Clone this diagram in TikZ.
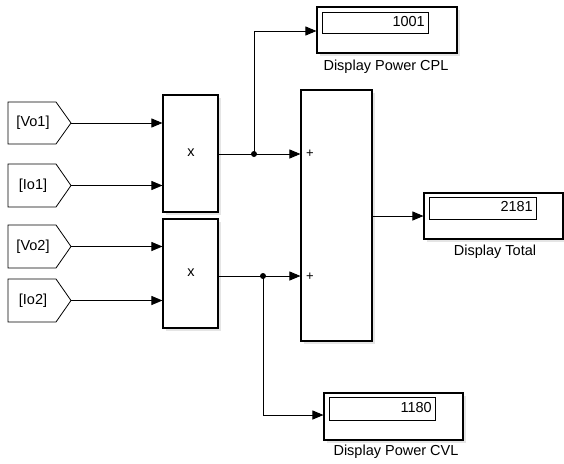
\documentclass[tikz,border=0pt]{standalone}
\usepackage{fontspec}
\setmainfont{Liberation Sans}
\usetikzlibrary{arrows.meta,shadows}
\begin{document}
\begin{tikzpicture}[x=1pt,y=-1pt,
  font=\fontsize{14.5}{17}\selectfont,
  blk/.style={draw,line width=1.1pt,fill=white,inner sep=0pt,
    drop shadow={shadow xshift=2.5pt,shadow yshift=-2.5pt,fill=black!10,opacity=1}},
  field/.style={draw,line width=0.9pt,fill=white,inner sep=0pt},
  tagshape/.style={draw,line width=0.8pt,fill=white},
  arr/.style={line width=0.9pt,-{Triangle[length=11pt,width=9pt]}},
  wire/.style={line width=0.9pt},
  dot/.style={circle,fill=black,inner sep=0pt,minimum size=6pt},
  lbl/.style={inner sep=0pt}
]
\useasboundingbox (0,0) rectangle (564,463);
% goto tags
\foreach \nm/\txt/\yt/\yb in {vo1/{[Vo1]}/102/144, io1/{[Io1]}/164/207, vo2/{[Vo2]}/225/268, io2/{[Io2]}/279/322}{
  \draw[tagshape] (8,\yt) -- (56,\yt) -- (71,{(\yt+\yb)/2}) -- (56,\yb) -- (8,\yb) -- cycle;
  \node[lbl] (\nm) at (33,{(\yt+\yb)/2}) {\txt};
  \coordinate (\nm t) at (71,{(\yt+\yb)/2});
}
% product blocks
\node[blk,minimum width=55pt,minimum height=117pt] (p1) at (190.5,153.5) {};
\node[lbl] (p1x) at (191,153) {x};
\node[blk,minimum width=55pt,minimum height=109pt] (p2) at (190.5,273.5) {};
\node[lbl] (p2x) at (191,273) {x};
% sum block
\node[blk,minimum width=71pt,minimum height=251pt] (sum) at (336.5,215.5) {};
\node[lbl,font=\fontsize{13}{14}\selectfont] (plus1) at (310,154) {+};
\node[lbl,font=\fontsize{13}{14}\selectfont] (plus2) at (310,277) {+};
% displays
\node[blk,minimum width=140pt,minimum height=46pt] (dcpl) at (387,30) {};
\node[field,minimum width=106pt,minimum height=21pt] (fcpl) at (375,22.5) {};
\node[lbl,anchor=east] (vcpl) at (425,21.5) {1001};
\node[lbl] (tcpl) at (386,67) {Display Power CPL};

\node[blk,minimum width=139pt,minimum height=46pt] (dtot) at (493.5,216) {};
\node[field,minimum width=107pt,minimum height=22pt] (ftot) at (482.5,208) {};
\node[lbl,anchor=east] (vtot) at (533,207) {2181};
\node[lbl] (ttot) at (495,252) {Display Total};

\node[blk,minimum width=139pt,minimum height=47pt] (dcvl) at (393.5,416.5) {};
\node[field,minimum width=106pt,minimum height=23pt] (fcvl) at (382,408.5) {};
\node[lbl,anchor=east] (vcvl) at (432,407.5) {1180};
\node[lbl] (tcvl) at (396,452) {Display Power CVL};
% connectors
\draw[arr] (vo1t) -- (p1.west |- vo1t);
\draw[arr] (io1t) -- (p1.west |- io1t);
\draw[arr] (vo2t) -- (p2.west |- vo2t);
\draw[arr] (io2t) -- (p2.west |- io2t);
\coordinate (j1) at (254,154);
\coordinate (j2) at (263,276);
\draw[wire] (p1.east |- j1) -- (j1);
\draw[arr] (j1) -- (sum.west |- j1);
\draw[arr] (j1) |- (dcpl.west |- 0,31);
\draw[wire] (p2.east |- j2) -- (j2);
\draw[arr] (j2) -- (sum.west |- j2);
\draw[arr] (j2) |- (dcvl.west |- 0,415);
\draw[arr] (sum.east |- 0,216) -- (dtot.west |- 0,216);
\node[dot] (d1) at (j1) {};
\node[dot] (d2) at (j2) {};
\end{tikzpicture}
\end{document}
